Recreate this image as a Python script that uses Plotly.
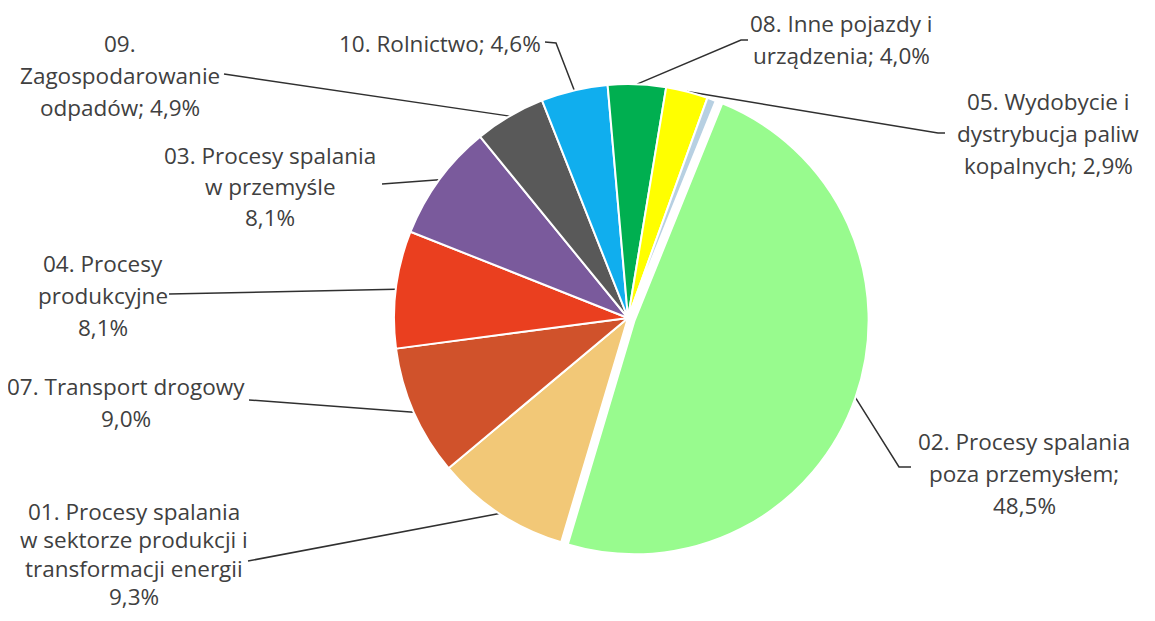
import math
import plotly.graph_objects as go

# ---------------- data ----------------
categories = [
    "02. Procesy spalania poza przemysłem",
    "01. Procesy spalania w sektorze produkcji i transformacji energii",
    "07. Transport drogowy",
    "04. Procesy produkcyjne",
    "03. Procesy spalania w przemyśle",
    "09. Zagospodarowanie odpadów",
    "10. Rolnictwo",
    "08. Inne pojazdy i urządzenia",
    "05. Wydobycie i dystrybucja paliw kopalnych",
    "06. Zastosowanie rozpuszczalników",
]
values = [48.5, 9.3, 9.0, 8.1, 8.1, 4.9, 4.6, 4.0, 2.9, 0.6]
colors = ["#98FB8E", "#F2C877", "#D0522B", "#EA3F1F", "#7A5A9C",
          "#595959", "#10AEEE", "#00AF50", "#FFFF00", "#B7D0E2"]
pulls = [0.03, 0, 0, 0, 0, 0, 0, 0, 0, 0]

label_lines = [
    ["02. Procesy spalania", "poza przemysłem;", "{p}"],
    ["01. Procesy spalania", "w sektorze produkcji i", "transformacji energii", "{p}"],
    ["07. Transport drogowy", "{p}"],
    ["04. Procesy", "produkcyjne", "{p}"],
    ["03. Procesy spalania", "w przemyśle", "{p}"],
    ["09.", "Zagospodarowanie", "odpadów; {p}"],
    ["10. Rolnictwo; {p}"],
    ["08. Inne pojazdy i", "urządzenia; {p}"],
    ["05. Wydobycie i", "dystrybucja paliw", "kopalnych; {p}"],
    None,
]

# ---------------- layout (page pixels) ----------------
PAGE_OFF = 8          # browser body margin
W, H = 1139, 605      # figure size
CX, CY, R = 628, 318, 234
ROT = 22

# label block: centre x, first-line y, line gap
label_pos = [(1024, 441, 32), (134, 511, 28.5), (126, 386, 32), (103, 263, 32),
             (270, 155, 31), (120, 43, 32), (440, 43, 0), (841, 23, 32),
             (1048, 101, 32), None]
# label-side points of each leader line (slice-side point is computed)
leader_start = [[(911, 467), (899, 467)], [(248, 561)], [(249, 400)], [(169, 294)],
                [(382, 184)], [(224, 74)], [(545, 42), (556, 43)],
                [(748, 40), (741, 40)], [(945, 133), (938, 133)], None]

FONT = dict(family="Open Sans", size=22.5, color="#404040")

fig = go.Figure()

maxpull = max(pulls)
hs = R * (1 + maxpull)
fx, fy = CX - PAGE_OFF, CY - PAGE_OFF
fig.add_trace(go.Pie(
    labels=categories, values=values, sort=False, direction="clockwise",
    rotation=ROT, pull=pulls, textinfo="none", hoverinfo="skip",
    marker=dict(colors=colors, line=dict(color="white", width=2)),
    domain=dict(x=[(fx - hs) / W, (fx + hs) / W],
                y=[(H - fy - hs) / H, (H - fy + hs) / H]),
    showlegend=False,
))

total = sum(values)
cum = 0.0
annotations = []
for i, v in enumerate(values):
    mid = math.radians(ROT + 360.0 * (cum + v / 2.0) / total)
    cum += v
    if label_lines[i] is None:
        continue
    px = CX + R * math.sin(mid) + pulls[i] * R * math.sin(mid)
    py = CY - R * math.cos(mid) - pulls[i] * R * math.cos(mid)
    pts = leader_start[i] + [(px, py)]
    fig.add_trace(go.Scatter(
        x=[p[0] for p in pts], y=[p[1] for p in pts], mode="lines",
        line=dict(color="#303030", width=1.5), hoverinfo="skip", showlegend=False,
    ))
    pct = f"{v:.1f}".replace(".", ",") + "%"
    lx, ly, gap = label_pos[i]
    for k, line in enumerate(label_lines[i]):
        annotations.append(dict(
            x=lx, y=ly + k * gap, xref="x", yref="y", text=line.replace("{p}", pct),
            showarrow=False, xanchor="center", yanchor="middle", font=FONT,
        ))

fig.update_layout(
    width=W, height=H, margin=dict(l=0, r=0, t=0, b=0),
    paper_bgcolor="white", plot_bgcolor="white",
    xaxis=dict(range=[PAGE_OFF, PAGE_OFF + W], visible=False, fixedrange=True),
    yaxis=dict(range=[PAGE_OFF + H, PAGE_OFF], visible=False, fixedrange=True),
    annotations=annotations,
)

fig.write_html("out.html")
